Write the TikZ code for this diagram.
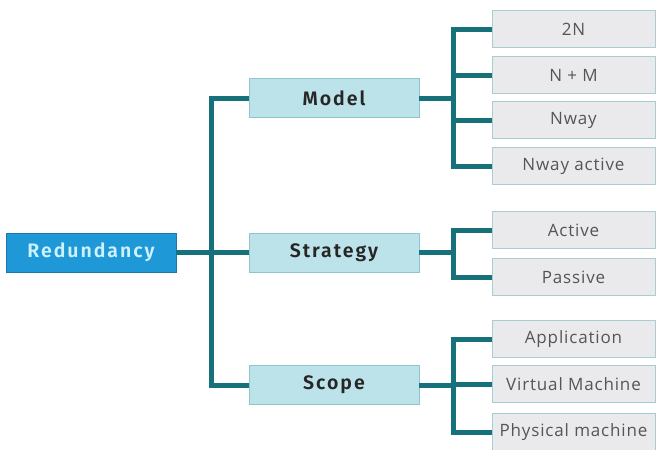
\documentclass[tikz,border=0pt]{standalone}
\usepackage{fontspec}
\setmainfont{Open Sans}
\newfontfamily\headfont[LetterSpace=10]{Fira Sans SemiBold}
\newfontfamily\leaffont[LetterSpace=5]{Open Sans}
\definecolor{conn}{HTML}{17717A}
\definecolor{rootfill}{HTML}{1E98D6}
\definecolor{roottext}{HTML}{CDF2FF}
\definecolor{midfill}{HTML}{BDE3EA}
\definecolor{midline}{HTML}{8FC5CD}
\definecolor{leaffill}{HTML}{EAEAEC}
\definecolor{leafline}{HTML}{A8CDD2}
\definecolor{leaftext}{HTML}{555555}
\tikzset{
  rootbox/.style={draw=rootfill!80!black, fill=rootfill, line width=0.8pt, minimum width=170pt, minimum height=39pt, inner sep=0pt, text=roottext, font=\headfont\fontsize{19.5}{21}\selectfont},
  midbox/.style={draw=midline, fill=midfill, line width=0.8pt, minimum width=170pt, minimum height=39pt, inner sep=0pt, text=black!85, font=\headfont\fontsize{19.5}{21}\selectfont},
  leafbox/.style={draw=leafline, fill=leaffill, line width=0.8pt, minimum width=163pt, minimum height=37pt, inner sep=0pt, text=leaftext, font=\leaffont\fontsize{17}{19}\selectfont},
  connline/.style={draw=conn, line width=5pt, line join=miter}
}
\begin{document}
\begin{tikzpicture}[x=1pt,y=-1pt]
\useasboundingbox (0,0) rectangle (657,450);
% connectors' turning points
\coordinate (t1) at (211,0);
\coordinate (t2) at (453,0);
% nodes
\node[rootbox] (red) at (91,252.5) {Redundancy};
\node[midbox] (model) at (334,98) {Model};
\node[midbox] (strat) at (334,252.5) {Strategy};
\node[midbox] (scope) at (334,385) {Scope};
\node[leafbox] (a1) at (573.5,29) {2N};
\node[leafbox] (a2) at (573.5,75) {N + M};
\node[leafbox] (a3) at (573.5,120) {Nway};
\node[leafbox] (a4) at (573.5,166) {Nway active};
\node[leafbox] (b1) at (573.5,230) {Active};
\node[leafbox] (b2) at (573.5,277) {Passive};
\node[leafbox] (c1) at (573.5,339) {Application};
\node[leafbox] (c2) at (573.5,384) {Virtual Machine};
\node[leafbox] (c3) at (573.5,432) {Physical machine};
% connectors
\draw[connline] (red.east) -- (strat.west);
\draw[connline] (model.west) -- (model.west -| t1) -- (scope.west -| t1) -- (scope.west);
\draw[connline] (model.east) -- (model.east -| t2);
\draw[connline] (a1.west) -- (a1.west -| t2) -- (a4.west -| t2) -- (a4.west);
\draw[connline] (a2.west) -- (a2.west -| t2);
\draw[connline] (a3.west) -- (a3.west -| t2);
\draw[connline] (strat.east) -- (strat.east -| t2);
\draw[connline] (b1.west) -- (b1.west -| t2) -- (b2.west -| t2) -- (b2.west);
\draw[connline] (scope.east) -- (scope.east -| t2);
\draw[connline] (c1.west) -- (c1.west -| t2) -- (c3.west -| t2) -- (c3.west);
\draw[connline] (c2.west) -- (c2.west -| t2);
\end{tikzpicture}
\end{document}
